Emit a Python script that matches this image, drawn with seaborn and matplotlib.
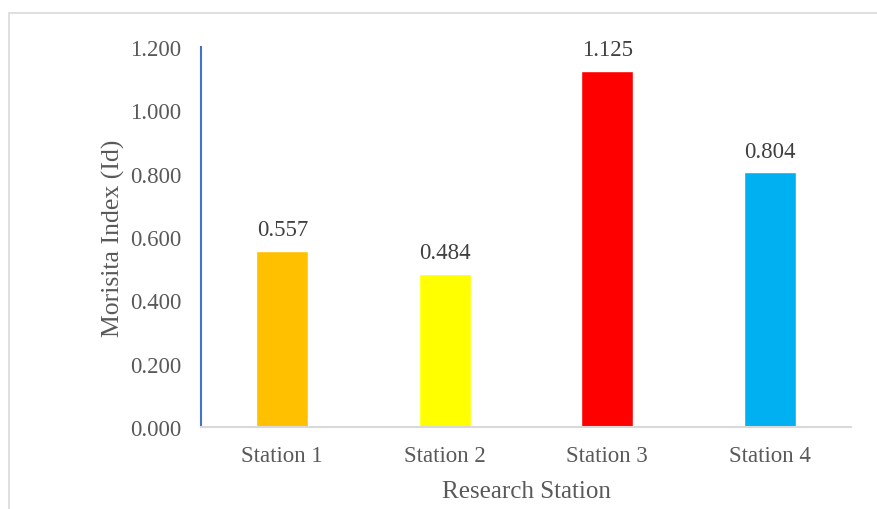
import matplotlib
matplotlib.use("Agg")
import matplotlib.pyplot as plt
import seaborn as sns
import pandas as pd
from matplotlib.patches import Rectangle

stations = ["Station 1", "Station 2", "Station 3", "Station 4"]
values = [0.557, 0.484, 1.125, 0.804]
colors = ["#FFC000", "#FFFF00", "#FF0000", "#00B0F0"]
yticks = [0.0, 0.2, 0.4, 0.6, 0.8, 1.0, 1.2]

sns.set_theme(style="white")
plt.rcParams['font.family'] = ['Liberation Serif', 'DejaVu Serif']

df = pd.DataFrame({"station": stations, "value": values})

fig = plt.figure(figsize=(8.77, 5.10), dpi=100)
ax = fig.add_axes([201/877, 82/510, 650/877, 380/510])

sns.barplot(data=df, x="station", y="value", hue="station", palette=colors,
            legend=False, width=0.32, ax=ax, saturation=1)

ax.set_ylim(0, 1.2)
ax.set_xlim(-0.5, 3.5)
ax.set_yticks(yticks)
ax.set_yticklabels([f"{t:.3f}" for t in yticks])
ax.tick_params(axis='both', length=0, labelsize=16.5, labelcolor="#595959")
ax.tick_params(axis='y', pad=14)
ax.tick_params(axis='x', pad=13)

for s in ["top", "right"]:
    ax.spines[s].set_visible(False)
ax.spines["left"].set_color("#4472C4")
ax.spines["left"].set_linewidth(1.5)
ax.spines["bottom"].set_color("#D9D9D9")
ax.spines["bottom"].set_linewidth(1.5)

for i, v in enumerate(values):
    ax.annotate(f"{v:.3f}", (i, v), xytext=(0, 7.5), textcoords="offset points",
                ha="center", va="bottom", fontsize=16.5, color="#404040")

ax.set_xlabel("Research Station", fontsize=18, color="#595959", labelpad=10)
ax.set_ylabel("Morisita Index (Id)", fontsize=18.5, color="#595959", labelpad=4)

fig.patches.append(Rectangle((9/877, -0.1), 1.2, (510-14)/510 + 0.1,
                             transform=fig.transFigure, fill=False,
                             edgecolor="#D9D9D9", linewidth=1.2))

fig.savefig("out.png", dpi=100)
